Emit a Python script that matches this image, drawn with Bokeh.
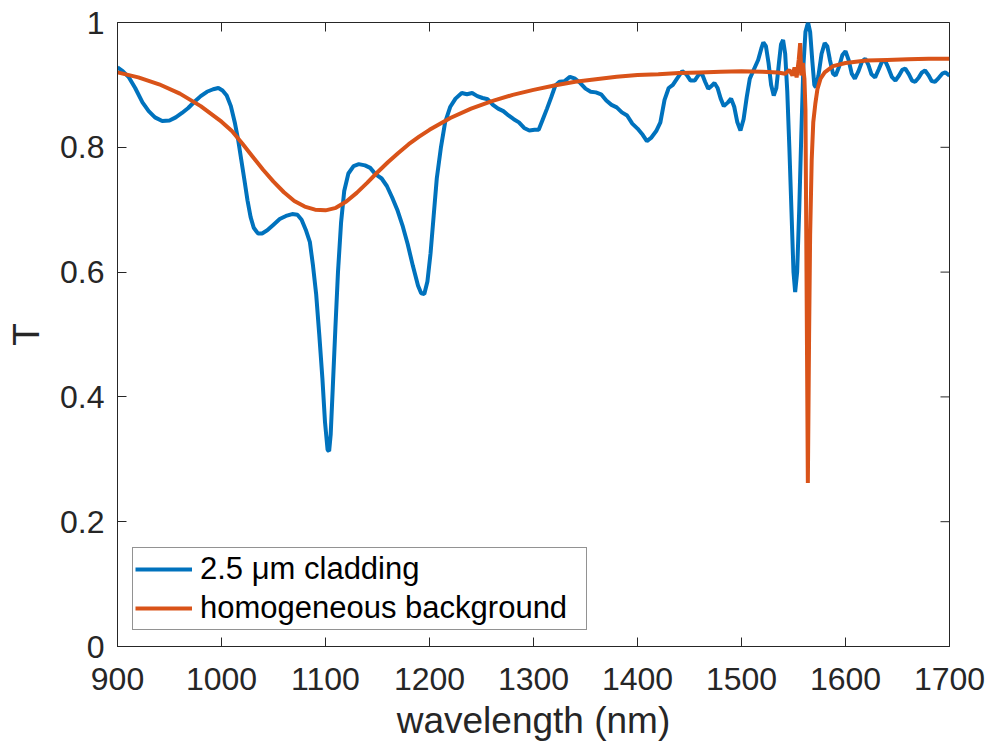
import math
from bokeh.plotting import figure
from bokeh.models import Range1d, FixedTicker, Legend, LegendItem
from bokeh.embed import file_html
from bokeh.resources import INLINE

# ---- data ----
blue_wl = [900, 905, 911, 917, 924, 930, 936, 943, 950, 956, 962, 968, 974, 980, 986, 992, 997,
           1001, 1005, 1009, 1013, 1016, 1019, 1022, 1025, 1028, 1031, 1035, 1039, 1044, 1050, 1056,
           1062, 1068, 1073, 1077, 1081, 1085, 1088, 1091, 1094, 1097, 1099.5, 1102, 1103.5, 1105,
           1107, 1109.5, 1112, 1115, 1118, 1122, 1127, 1132, 1138, 1143, 1148, 1154, 1159, 1164,
           1169, 1174, 1179, 1184, 1189, 1192, 1195, 1198, 1201, 1204, 1207, 1211, 1215, 1220, 1225,
           1231, 1236, 1241, 1246, 1251, 1256, 1261, 1266, 1271, 1276, 1281, 1286, 1291, 1296, 1301,
           1305, 1309, 1313, 1317, 1321, 1325, 1330, 1335, 1340, 1345, 1350, 1355, 1360, 1365, 1370,
           1375, 1380, 1385, 1390, 1395, 1400, 1405, 1409, 1413, 1418, 1422, 1426, 1430, 1434, 1438,
           1443, 1447, 1451, 1455, 1459, 1462, 1465, 1468, 1471, 1474, 1477, 1480, 1483, 1487, 1490,
           1493, 1496, 1499, 1502, 1505, 1508, 1512, 1516, 1519, 1521, 1523.5, 1526, 1528.5, 1531,
           1533.5, 1536, 1538, 1540, 1542, 1544, 1546, 1548, 1550, 1551.6, 1553.5, 1555.5, 1557.5,
           1559.5, 1561.5, 1564, 1566, 1568, 1570, 1571.5, 1574, 1577, 1580, 1582.5, 1585, 1588,
           1590.5, 1594, 1597, 1600, 1603, 1606, 1609, 1612.5, 1616, 1619, 1622, 1625, 1628.5, 1632,
           1635, 1638, 1641, 1644.5, 1648, 1651.5, 1654.5, 1657.5, 1661, 1664, 1667, 1670.5, 1673.5,
           1676.5, 1680, 1683, 1686, 1689.5, 1693, 1696, 1700]
blue_T = [0.928, 0.922, 0.912, 0.895, 0.872, 0.858, 0.848, 0.842, 0.843, 0.848, 0.855, 0.863, 0.873,
          0.882, 0.889, 0.893, 0.895, 0.891, 0.883, 0.866, 0.838, 0.812, 0.78, 0.748, 0.715, 0.688,
          0.671, 0.662, 0.662, 0.667, 0.676, 0.685, 0.69, 0.693, 0.692, 0.684, 0.668, 0.648, 0.61,
          0.565, 0.5, 0.43, 0.36, 0.315, 0.313, 0.34, 0.415, 0.51, 0.6, 0.68, 0.73, 0.758, 0.77,
          0.773, 0.771, 0.767, 0.757, 0.75, 0.738, 0.72, 0.7, 0.675, 0.645, 0.61, 0.578, 0.566,
          0.565, 0.585, 0.63, 0.69, 0.75, 0.8, 0.84, 0.865, 0.878, 0.887, 0.885, 0.887, 0.882,
          0.879, 0.877, 0.868, 0.862, 0.858, 0.851, 0.845, 0.84, 0.831, 0.827, 0.828, 0.828, 0.845,
          0.862, 0.88, 0.899, 0.905, 0.906, 0.913, 0.91, 0.903, 0.894, 0.889, 0.888, 0.885, 0.875,
          0.868, 0.864, 0.856, 0.851, 0.838, 0.83, 0.82, 0.81, 0.815, 0.826, 0.84, 0.876, 0.895,
          0.9, 0.91, 0.922, 0.917, 0.907, 0.907, 0.917, 0.918, 0.905, 0.894, 0.898, 0.903, 0.895,
          0.878, 0.866, 0.872, 0.878, 0.865, 0.84, 0.827, 0.845, 0.88, 0.91, 0.925, 0.94, 0.958,
          0.968, 0.962, 0.935, 0.9, 0.883, 0.895, 0.935, 0.965, 0.972, 0.95, 0.89, 0.8, 0.7, 0.6,
          0.568, 0.6, 0.7, 0.82, 0.93, 0.985, 1.0, 0.985, 0.94, 0.9, 0.896, 0.915, 0.95, 0.967,
          0.962, 0.94, 0.918, 0.915, 0.93, 0.948, 0.954, 0.94, 0.918, 0.91, 0.922, 0.938, 0.942,
          0.932, 0.917, 0.912, 0.925, 0.937, 0.939, 0.928, 0.913, 0.907, 0.915, 0.924, 0.926, 0.917,
          0.907, 0.905, 0.912, 0.92, 0.923, 0.915, 0.906, 0.905, 0.911, 0.918, 0.92, 0.915]

orange_wl = [900, 920, 940, 960, 980, 1000, 1010, 1020, 1030, 1040, 1050, 1060, 1070, 1080, 1090,
             1100, 1110, 1120, 1130, 1140, 1150, 1160, 1170, 1180, 1190, 1200, 1220, 1240, 1260,
             1280, 1300, 1320, 1340, 1360, 1380, 1400, 1420, 1440, 1460, 1480, 1500, 1520, 1535,
             1542, 1546, 1549, 1551, 1553, 1555, 1556.4, 1557.5, 1559, 1560.5, 1561.5, 1562.5,
             1563.8, 1565, 1566, 1567.5, 1569, 1571, 1573, 1576, 1580, 1588, 1600, 1620, 1640,
             1660, 1680, 1700]
orange_T = [0.920, 0.912, 0.901, 0.886, 0.866, 0.841, 0.826, 0.806, 0.785, 0.764, 0.745, 0.728,
            0.714, 0.705, 0.700, 0.699, 0.703, 0.713, 0.727, 0.743, 0.760, 0.776, 0.791, 0.805,
            0.817, 0.828, 0.847, 0.862, 0.874, 0.884, 0.892, 0.899, 0.905, 0.909, 0.913, 0.916,
            0.917, 0.919, 0.920, 0.921, 0.922, 0.921, 0.920, 0.918, 0.924, 0.915, 0.928, 0.912,
            0.94, 0.967, 0.915, 0.935, 0.91, 0.86, 0.6, 0.262, 0.5, 0.66, 0.78, 0.84, 0.87, 0.893,
            0.91, 0.92, 0.93, 0.935, 0.939, 0.940, 0.941, 0.942, 0.942]

x_ticks = [900, 1000, 1100, 1200, 1300, 1400, 1500, 1600, 1700]
y_ticks = [0, 0.2, 0.4, 0.6, 0.8, 1]
y_tick_labels = {0: "0", 0.2: "0.2", 0.4: "0.4", 0.6: "0.6", 0.8: "0.8", 1: "1"}
series_labels = ["2.5 μm cladding", "homogeneous background"]
x_label = "wavelength (nm)"
y_label = "T"

BLUE = "#0072BD"
ORANGE = "#D95319"
AX = "#262626"
FONT = "Liberation Sans"

X0, X1 = 900, 1700
Y0, Y1 = 0, 1

p = figure(width=992, height=745, output_backend="svg", toolbar_location=None,
           x_range=Range1d(X0, X1), y_range=Range1d(Y0, Y1),
           min_border_left=117, min_border_right=43, min_border_top=22, min_border_bottom=99,
           x_axis_label=x_label, y_axis_label=y_label)
p.grid.visible = False
p.outline_line_color = AX
p.outline_line_width = 1
p.background_fill_color = "white"
p.border_fill_color = "white"

r_blue = p.line(blue_wl, blue_T, line_color=BLUE, line_width=4)
r_orange = p.line(orange_wl, orange_T, line_color=ORANGE, line_width=4)

def style(ax):
    ax.axis_line_color = AX
    ax.axis_line_width = 1
    ax.major_tick_line_color = AX
    ax.major_tick_in = 9
    ax.major_tick_out = 0
    ax.minor_tick_line_color = None
    ax.major_label_text_font = FONT
    ax.major_label_text_color = AX
    ax.major_label_text_font_size = "32px"
    ax.axis_label_text_font = FONT
    ax.axis_label_text_font_style = "normal"
    ax.axis_label_text_color = AX
    ax.axis_label_text_font_size = "37px"

xa = p.xaxis[0]
ya = p.yaxis[0]
xa.ticker = FixedTicker(ticks=x_ticks)
ya.ticker = FixedTicker(ticks=y_ticks)
ya.major_label_overrides = y_tick_labels
style(xa)
style(ya)
xa.major_label_standoff = 21
xa.axis_label_standoff = 7
ya.major_label_standoff = 13
ya.axis_label_standoff = 10

# inward ticks on the top and right edges of the box (clipped to the frame)
p.scatter(x=x_ticks, y=[Y1] * len(x_ticks), marker="dash", angle=math.pi / 2, size=18,
          line_color=AX, line_width=1)
p.scatter(x=[X1] * len(y_ticks), y=y_ticks, marker="dash", size=18,
          line_color=AX, line_width=1)

legend = Legend(items=[LegendItem(label=series_labels[0], renderers=[r_blue]),
                       LegendItem(label=series_labels[1], renderers=[r_orange])],
                location=(15, 16), margin=0)
legend.label_text_font = FONT
legend.label_text_font_size = "31px"
legend.label_text_color = "black"
legend.border_line_color = AX
legend.border_line_width = 1
legend.background_fill_color = "white"
legend.background_fill_alpha = 1
legend.glyph_width = 57
legend.glyph_height = 38
legend.label_height = 38
legend.label_width = 384
legend.label_standoff = 8
legend.padding = 2
legend.spacing = 1
p.add_layout(legend)

open("out.html", "w").write(file_html(p, INLINE))
